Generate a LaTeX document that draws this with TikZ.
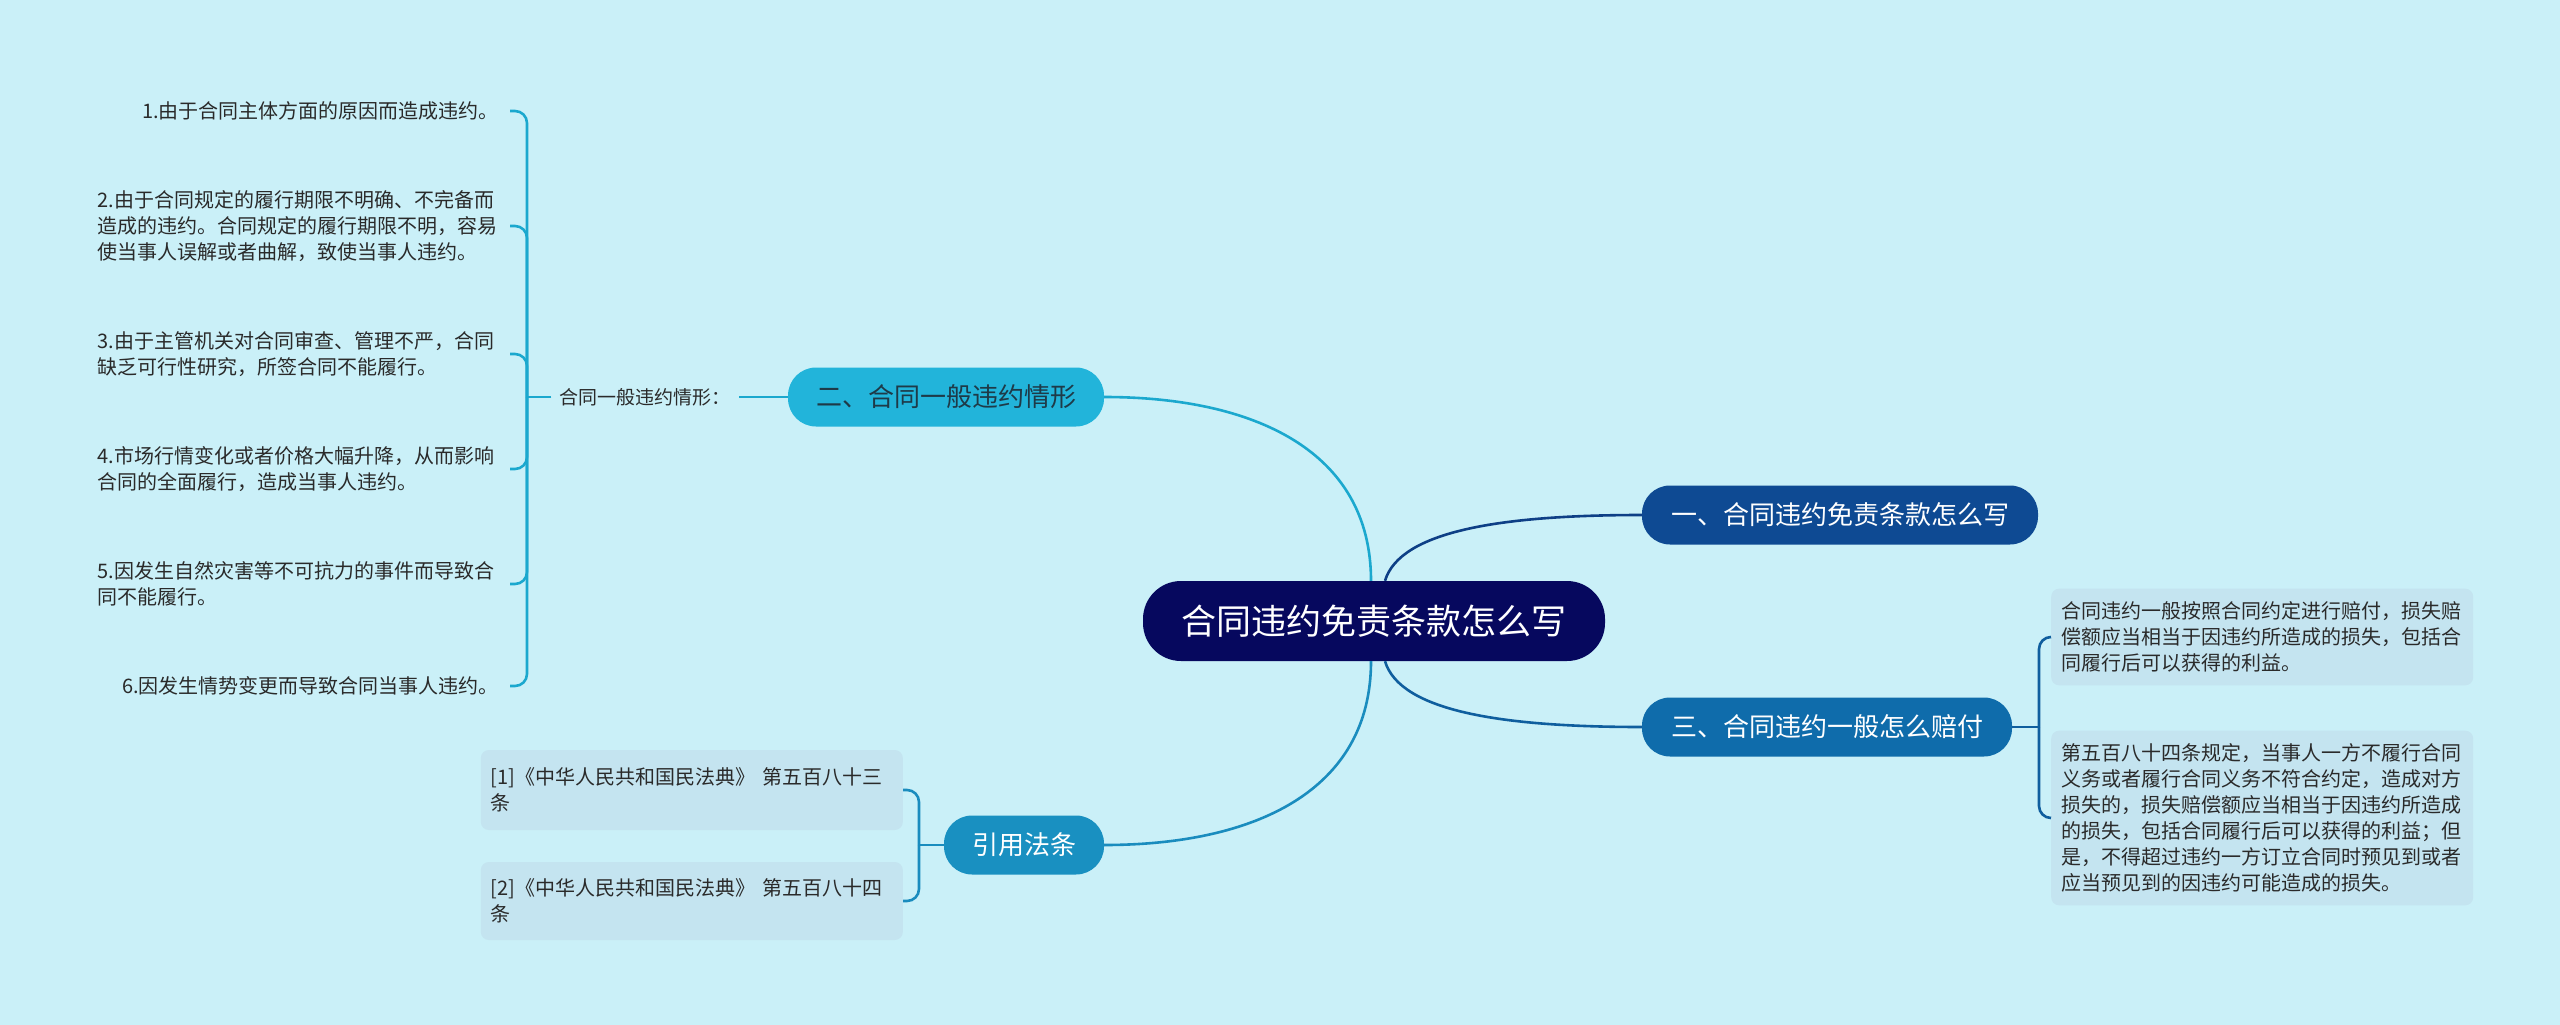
\documentclass[tikz,border=0pt]{standalone}
\usepackage{fontspec}
\setmainfont{Noto Sans CJK SC}
\definecolor{bgc}{HTML}{CAF0F8}
\definecolor{cc}{HTML}{06085E}
\definecolor{b1c}{HTML}{0E4A93}
\definecolor{b1l}{HTML}{0E3F86}
\definecolor{b3c}{HTML}{0F6CAB}
\definecolor{b3l}{HTML}{0F5E9E}
\definecolor{b2c}{HTML}{22B4DA}
\definecolor{b2l}{HTML}{1BA8CE}
\definecolor{b2t}{HTML}{1E3A48}
\definecolor{b4c}{HTML}{1990C1}
\definecolor{b4l}{HTML}{1A8CBE}
\definecolor{leafc}{HTML}{C4E4F0}
\definecolor{txt}{HTML}{2A2A2A}
\begin{document}
\begin{tikzpicture}[x=1pt,y=-1pt,
  cnode/.style={fill=cc, text=white, rounded corners=38pt, minimum width=462pt, minimum height=80pt, inner sep=0pt, font=\fontsize{35pt}{40pt}\selectfont},
  bnode/.style={text=white, rounded corners=28pt, minimum height=59pt, inner sep=0pt, font=\fontsize{26pt}{30pt}\selectfont},
  subl/.style={text=txt, inner xsep=8pt, font=\fontsize{19pt}{24pt}\selectfont},
  leafs/.style={text=txt, inner xsep=4pt, inner ysep=4pt, font=\fontsize{20pt}{26pt}\selectfont},
  leafm/.style={text=txt, text width=404pt, align=left, inner xsep=4pt, inner ysep=4pt, font=\fontsize{20pt}{26pt}\selectfont},
  boxleaf/.style={fill=leafc, text=txt, rounded corners=8pt, text width=402pt, align=left, inner xsep=10pt, inner ysep=13pt, font=\fontsize{20pt}{26pt}\selectfont},
  conn/.style={line width=2.6pt},
  brk/.style={line width=2.6pt, rounded corners=12pt}
]
\fill[bgc] (0,0) rectangle (2560,1025);
\useasboundingbox (0,0) rectangle (2560,1025);

% central and main branches
\node[cnode] (c) at (1374,621) {合同违约免责条款怎么写};
\node[bnode, fill=b1c, minimum width=396pt] (b1) at (1840,515) {一、合同违约免责条款怎么写};
\node[bnode, fill=b3c, minimum width=370pt] (b3) at (1827,727) {三、合同违约一般怎么赔付};
\node[bnode, fill=b2c, text=b2t, minimum width=316pt] (b2) at (946,397) {二、合同一般违约情形};
\node[bnode, fill=b4c, minimum width=160pt] (b4) at (1024,845) {引用法条};

% main connectors
\draw[conn, b2l] ([xshift=-3pt]c.north) .. controls +(0,-130) and +(150,0) .. (b2.east);
\draw[conn, b4l] ([xshift=-3pt]c.south) .. controls +(0,130) and +(150,0) .. (b4.east);
\draw[conn, b1l] ([xshift=11pt]c.north) .. controls +(15,-50) and +(-140,0) .. (b1.west);
\draw[conn, b3l] ([xshift=11pt]c.south) .. controls +(15,50) and +(-140,0) .. (b3.west);

% left group
\node[subl] (s) at (645,397) {合同一般违约情形：};
\node[leafs, anchor=east] (l1) at (503,111) {1.由于合同主体方面的原因而造成违约。};
\node[leafm, anchor=east] (l2) at (506,226) {2.由于合同规定的履行期限不明确、不完备而\\造成的违约。合同规定的履行期限不明，容易\\使当事人误解或者曲解，致使当事人违约。};
\node[leafm, anchor=east] (l3) at (506,354) {3.由于主管机关对合同审查、管理不严，合同\\缺乏可行性研究，所签合同不能履行。};
\node[leafm, anchor=east] (l4) at (506,469) {4.市场行情变化或者价格大幅升降，从而影响\\合同的全面履行，造成当事人违约。};
\node[leafm, anchor=east] (l5) at (506,584) {5.因发生自然灾害等不可抗力的事件而导致合\\同不能履行。};
\node[leafs, anchor=east] (l6) at (503,686) {6.因发生情势变更而导致合同当事人违约。};
\coordinate (J) at (527,397);
\coordinate (T) at (510,0);
\draw[conn, b2l] (b2.west) -- (s.east);
\draw[conn, b2l] (s.west) -- (J);
\foreach \n in {l1,l2,l3,l4,l5,l6} \draw[brk, b2l] (J) |- (\n.east -| T);

% right group
\node[boxleaf, anchor=west] (ra) at (2051,637) {合同违约一般按照合同约定进行赔付，损失赔\\偿额应当相当于因违约所造成的损失，包括合\\同履行后可以获得的利益。};
\node[boxleaf, anchor=west] (rb) at (2051,818) {第五百八十四条规定，当事人一方不履行合同\\义务或者履行合同义务不符合约定，造成对方\\损失的，损失赔偿额应当相当于因违约所造成\\的损失，包括合同履行后可以获得的利益；但\\是，不得超过违约一方订立合同时预见到或者\\应当预见到的因违约可能造成的损失。};
\coordinate (J3) at (2039,727);
\draw[conn, b3l] (b3.east) -- (J3);
\draw[brk, b3l] (J3) |- (ra.west);
\draw[brk, b3l] (J3) |- (rb.west);

% references
\node[boxleaf, anchor=east, minimum height=80pt] (r1) at (903,790) {[1]《中华人民共和国民法典》 第五百八十三\\条};
\node[boxleaf, anchor=east, minimum height=78pt] (r2) at (903,901) {[2]《中华人民共和国民法典》 第五百八十四\\条};
\coordinate (J4) at (919,845);
\draw[conn, b4l] (b4.west) -- (J4);
\draw[brk, b4l] (J4) |- (r1.east);
\draw[brk, b4l] (J4) |- (r2.east);
\end{tikzpicture}
\end{document}
